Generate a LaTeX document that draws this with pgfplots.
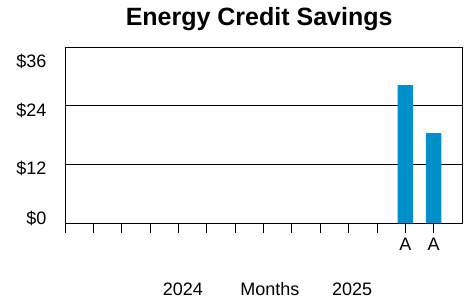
\documentclass[border=0pt]{standalone}
\usepackage{pgfplots}
\pgfplotsset{compat=1.18}
\usepackage{fontspec}
\setmainfont{Liberation Sans}
\definecolor{barblue}{RGB}{0,145,204}
\begin{document}
\begin{tikzpicture}
\begin{axis}[
  at={(0,0)}, anchor=south west,
  scale only axis,
  width=397bp, height=176bp,
  xmin=0, xmax=14, ymin=0, ymax=36,
  ybar, bar width=15.3bp,
  xtick={0,...,13},
  xticklabels={,,,,,,,,,,,,A,A},
  xtick pos=lower,
  tick align=outside,
  major tick length=10bp,
  xtick style={black, line width=0.8pt},
  ytick={0,12,24,36},
  yticklabels={\$0,\raisebox{-8.8bp}{\$12},\raisebox{-9bp}{\$24},\raisebox{-19.5bp}{\$36}},
  ytick style={draw=none},
  ymajorgrids,
  grid style={black, line width=0.6pt},
  axis line style={black, line width=0.8pt},
  ticklabel style={font=\fontsize{18bp}{20bp}\selectfont},
  yticklabel style={anchor=base east, xshift=-5bp, yshift=-1.4bp},
  xticklabel style={yshift=-2bp},
  /pgf/number format/assume math mode=true,
  clip=false,
]
\addplot[fill=barblue, draw=none] coordinates {(12,28.2) (13,18.4)};
\node[font=\fontsize{18bp}{20bp}\selectfont] at (axis description cs:0.297,-0.375) {2024};
\node[font=\fontsize{18bp}{20bp}\selectfont] at (axis description cs:0.516,-0.375) {Months};
\node[font=\fontsize{18bp}{20bp}\selectfont] at (axis description cs:0.723,-0.375) {2025};
\node[font=\bfseries\fontsize{25bp}{28bp}\selectfont, anchor=base] at (axis description cs:0.489,1.125) {Energy Credit Savings};
\end{axis}
\path[use as bounding box] (-65bp,-79bp) rectangle (408bp,223bp);
\end{tikzpicture}
\end{document}
